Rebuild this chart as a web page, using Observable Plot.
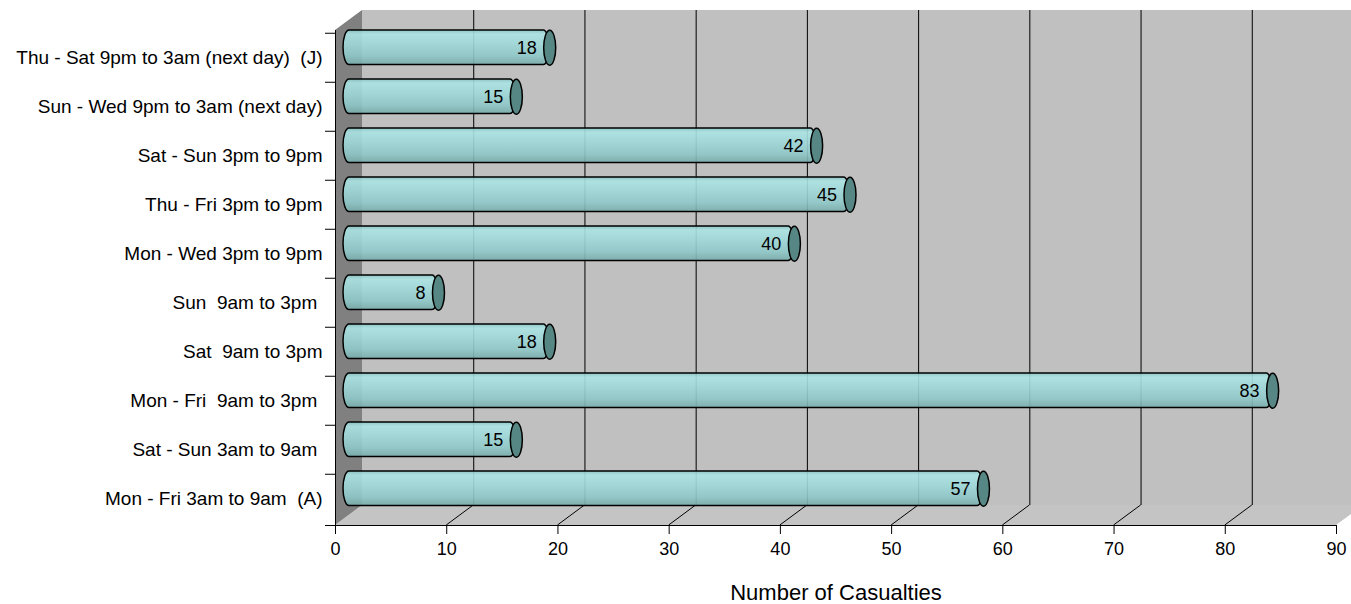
<!DOCTYPE html>
<html><head><meta charset="utf-8">
<script src="https://cdn.jsdelivr.net/npm/d3@7"></script>
<script src="https://cdn.jsdelivr.net/npm/@observablehq/plot@0.6"></script>
<style>
body{margin:0;background:#fff}
svg text{white-space:pre}
</style>
</head><body><div id="chart"></div>
<script>
// ---- data ----
const categories = [
  "Thu - Sat 9pm to 3am (next day)  (J)",
  "Sun - Wed 9pm to 3am (next day)",
  "Sat - Sun 3pm to 9pm",
  "Thu - Fri 3pm to 9pm",
  "Mon - Wed 3pm to 9pm",
  "Sun  9am to 3pm ",
  "Sat  9am to 3pm",
  "Mon - Fri  9am to 3pm ",
  "Sat - Sun 3am to 9am ",
  "Mon - Fri 3am to 9am  (A)"
];
const casualties = [18, 15, 42, 45, 40, 8, 18, 83, 15, 57];
const xTicks = [0, 10, 20, 30, 40, 50, 60, 70, 80, 90];
const gridTicks = [10, 20, 30, 40, 50, 60, 70, 80];
const xDomain = [0, 90];
const xLabel = ["Number of Casualties"];

const rows = categories.map((c, i) => ({cat: c, value: casualties[i]}));

// ---- 3D look constants ----
const DX = 27, DY = -20;           // depth of the box
const BX = 14, BY = -10.25;        // bars sit halfway in depth
const CAP_RX = 6, BAR_H = 35;
const NS = "http://www.w3.org/2000/svg";

function el(name, attrs) {
  const e = document.createElementNS(NS, name);
  for (const k in attrs) e.setAttribute(k, attrs[k]);
  return e;
}

function walls(index, scales, values, dim) {
  const g = el("g", {});
  const defs = el("defs", {});
  const grad = el("linearGradient", {id: "cyl", x1: 0, y1: 0, x2: 0, y2: 1});
  [["0%", "#8cc6c6"], ["12%", "#ace4e4"], ["40%", "#a0dada"], ["75%", "#8fc8c8"], ["100%", "#78abab"]]
    .forEach(([o, c]) => grad.appendChild(el("stop", {offset: o, "stop-color": c})));
  defs.appendChild(grad);
  g.appendChild(defs);
  const x = scales.x;
  const top = dim.marginTop, bottom = dim.height - dim.marginBottom;
  const a = x(xDomain[0]), b = x(xDomain[1]);
  const poly = (pts, fill) => g.appendChild(el("polygon", {points: pts.map(p => p.join(",")).join(" "), fill}));
  poly([[a + DX, top + DY], [b + DX, top + DY], [b + DX, bottom + DY], [a + DX, bottom + DY]], "#c0c0c0");
  poly([[a, bottom], [b, bottom], [b + DX, bottom + DY], [a + DX, bottom + DY]], "#c4c4c4");
  poly([[a, top], [a + DX, top + DY], [a + DX, bottom + DY], [a, bottom]], "#808080");
  return g;
}

function floorLines(index, scales, values, dim) {
  const g = el("g", {stroke: "#000", "stroke-width": 1});
  const x = scales.x;
  const bottom = dim.height - dim.marginBottom;
  for (const t of gridTicks) {
    g.appendChild(el("line", {x1: x(t), y1: bottom, x2: x(t) + DX, y2: bottom + DY}));
  }
  g.appendChild(el("line", {x1: x(xDomain[0]) - 10, y1: bottom + 0.5, x2: x(xDomain[1]), y2: bottom + 0.5}));
  return g;
}

// ellipse symbol for cylinder end caps
const ellipseSymbol = {
  draw(ctx, size) {
    const ry = Math.sqrt(size / Math.PI), rx = ry * CAP_RX / (BAR_H / 2);
    const k = 0.5523;
    ctx.moveTo(rx, 0);
    ctx.bezierCurveTo(rx, k * ry, k * rx, ry, 0, ry);
    ctx.bezierCurveTo(-k * rx, ry, -rx, k * ry, -rx, 0);
    ctx.bezierCurveTo(-rx, -k * ry, -k * rx, -ry, 0, -ry);
    ctx.bezierCurveTo(k * rx, -ry, rx, -k * ry, rx, 0);
    ctx.closePath();
  }
};

const inset = (49.5 - BAR_H) / 2;

const chart = Plot.plot({
  width: 1351,
  height: 604,
  marginLeft: 335,
  marginRight: 15,
  marginTop: 30,
  marginBottom: 79,
  style: {fontFamily: "'Liberation Sans', Arial, sans-serif", fontSize: "18px", background: "#fff", overflow: "visible", color: "#000"},
  x: {domain: xDomain, ticks: xTicks, tickSize: 9, tickPadding: 8, label: null},
  y: {type: "band", domain: categories, padding: 0, tickSize: 0, tickPadding: 13, label: null},
  marks: [
    walls,
    Plot.ruleX(gridTicks, {x: d => d, dx: DX, dy: DY, stroke: "#000", strokeWidth: 1}),
    floorLines,
    Plot.ruleX([0], {stroke: "#000", strokeWidth: 1}),
    Plot.ruleY(rows, {y: "cat", x1: -0.9, x2: 0, dy: -24.75, stroke: "#000", strokeWidth: 1}),
    Plot.barX(rows, {y: "cat", x1: 0, x2: "value", dx: BX, dy: BY, insetTop: inset, insetBottom: inset,
      insetLeft: -CAP_RX, rx: CAP_RX, ry: BAR_H / 2,
      fill: "url(#cyl)", fillOpacity: 0.9, stroke: "#000", strokeWidth: 1.5}),
    Plot.dot(rows, {y: "cat", x: "value", dx: BX, dy: BY, r: BAR_H / 2, symbol: ellipseSymbol,
      fill: "#568784", stroke: "#000", strokeWidth: 1.5}),
    Plot.text(rows, {y: "cat", x: "value", text: d => String(d.value), textAnchor: "end", dx: 1, dy: -10, fontSize: 18, fill: "#000"}),
    Plot.text(xLabel, {text: d => d, frameAnchor: "bottom", lineAnchor: "top", dy: 59, fontSize: 22, fill: "#000"})
  ]
});

d3.select(chart).selectAll('g[aria-label^="y-axis"] text').style("font-size", "19px");
d3.select(chart).selectAll('g[aria-label^="x-axis"] text').style("font-size", "18px");
document.getElementById("chart").appendChild(chart);
</script>
</body></html>
